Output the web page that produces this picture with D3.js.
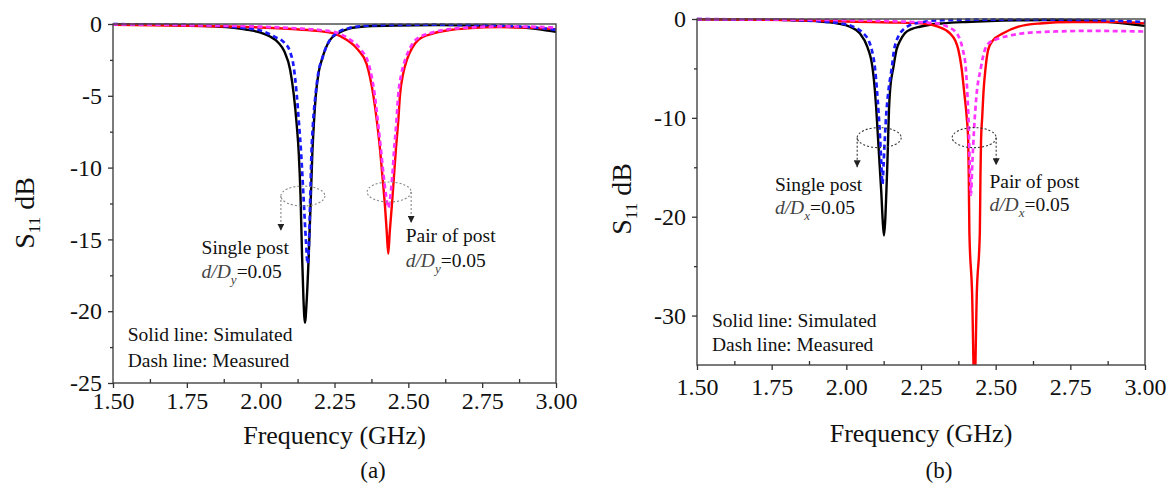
<!DOCTYPE html>
<html>
<head>
<meta charset="utf-8">
<script src="https://cdn.jsdelivr.net/npm/d3@7"></script>
<style>
  body { margin: 0; background: #fff; }
  svg { display: block; font-family: "Liberation Serif", "Times New Roman", serif; }
</style>
</head>
<body>
<svg id="chart" width="1174" height="491"></svg>
<script>
// --- DATA ---
const xTicks = [1.50, 1.75, 2.00, 2.25, 2.50, 2.75, 3.00];
const xMinor = [1.625, 1.875, 2.125, 2.375, 2.625, 2.875];
const yTicksA = [0, -5, -10, -15, -20, -25];
const yMinorA = [-2.5, -7.5, -12.5, -17.5, -22.5];
const yTicksB = [0, -10, -20, -30];
const yMinorB = [-5, -15, -25];

// panel (a): d/Dy = 0.05  [GHz, dB]
const simSingleA = [[1.50,-0.02],[1.60,-0.04],[1.70,-0.07],[1.80,-0.13],[1.90,-0.25],[1.95,-0.38],[2.00,-0.6],[2.03,-0.85],[2.06,-1.3],[2.08,-1.9],[2.10,-3.2],[2.112,-4.9],[2.122,-7],[2.129,-9],[2.135,-12],[2.140,-16],[2.145,-19.2],[2.150,-20.8],[2.156,-19.2],[2.163,-16],[2.170,-12],[2.175,-9],[2.180,-7],[2.187,-4.9],[2.197,-3.3],[2.207,-2.5],[2.22,-1.7],[2.235,-1.1],[2.262,-0.65],[2.30,-0.32],[2.36,-0.16],[2.45,-0.1],[2.60,-0.08],[2.75,-0.12],[2.85,-0.2],[2.95,-0.38],[3.00,-0.54]];
const measSingleA = [[1.50,-0.01],[1.70,-0.05],[1.85,-0.12],[1.95,-0.3],[2.00,-0.45],[2.048,-0.9],[2.08,-1.3],[2.099,-1.9],[2.112,-3],[2.122,-4.9],[2.130,-7],[2.137,-9],[2.145,-12],[2.153,-15],[2.159,-16.7],[2.164,-15],[2.168,-12],[2.172,-9],[2.177,-7],[2.186,-4.9],[2.196,-3.3],[2.207,-2.5],[2.22,-1.7],[2.235,-1.1],[2.26,-0.6],[2.30,-0.28],[2.36,-0.12],[2.45,-0.06],[2.60,-0.05],[2.75,-0.08],[2.90,-0.2],[3.00,-0.4]];
const simPairA = [[1.50,-0.05],[1.70,-0.1],[1.95,-0.2],[2.12,-0.37],[2.20,-0.5],[2.252,-0.68],[2.291,-1.1],[2.33,-1.8],[2.359,-2.8],[2.381,-4.9],[2.395,-7],[2.404,-8.7],[2.414,-11],[2.421,-12.7],[2.427,-14.5],[2.432,-16],[2.437,-14.5],[2.444,-12.7],[2.450,-11],[2.458,-8.7],[2.465,-7],[2.472,-4.9],[2.482,-3.5],[2.495,-2.5],[2.512,-1.7],[2.534,-1.1],[2.585,-0.65],[2.64,-0.42],[2.70,-0.3],[2.81,-0.22],[2.90,-0.25],[3.00,-0.37]];
const measPairA = [[1.50,-0.02],[1.70,-0.06],[1.95,-0.15],[2.12,-0.3],[2.20,-0.42],[2.257,-0.6],[2.30,-1.05],[2.34,-1.8],[2.366,-2.8],[2.386,-4.9],[2.398,-7],[2.407,-8.7],[2.416,-10.5],[2.425,-12],[2.432,-12.8],[2.439,-12],[2.446,-10.5],[2.452,-8.7],[2.459,-7],[2.466,-4.9],[2.476,-3.5],[2.489,-2.5],[2.505,-1.7],[2.525,-1.1],[2.58,-0.6],[2.64,-0.35],[2.70,-0.25],[2.81,-0.17],[2.90,-0.18],[3.00,-0.25]];

// panel (b): d/Dx = 0.05
const simSingleB = [[1.50,-0.02],[1.70,-0.06],[1.81,-0.1],[1.90,-0.22],[1.968,-0.44],[2.012,-0.78],[2.045,-1.45],[2.07,-2.8],[2.088,-5],[2.095,-7],[2.100,-9],[2.106,-12],[2.112,-15],[2.117,-17.5],[2.122,-20.5],[2.126,-21.9],[2.130,-20.5],[2.134,-17.5],[2.137,-15],[2.140,-12],[2.143,-9],[2.147,-7],[2.157,-5],[2.168,-3.1],[2.18,-2.2],[2.196,-1.45],[2.22,-1.0],[2.246,-0.78],[2.28,-0.58],[2.324,-0.44],[2.40,-0.3],[2.48,-0.2],[2.60,-0.12],[2.70,-0.1],[2.80,-0.15],[2.90,-0.35],[3.00,-0.7]];
const measSingleB = [[1.50,-0.02],[1.70,-0.05],[1.81,-0.1],[1.92,-0.25],[1.98,-0.44],[2.023,-0.78],[2.057,-1.45],[2.075,-2.2],[2.085,-3.1],[2.096,-5],[2.102,-7],[2.108,-9.5],[2.113,-12],[2.117,-14.5],[2.121,-16.7],[2.125,-14.5],[2.129,-12],[2.134,-9.5],[2.142,-7],[2.152,-5],[2.160,-3.1],[2.168,-2.2],[2.180,-1.45],[2.195,-0.95],[2.213,-0.62],[2.257,-0.3],[2.324,-0.12],[2.45,-0.06],[2.60,-0.05],[2.75,-0.08],[2.90,-0.18],[3.00,-0.3]];
const simPairB = [[1.50,-0.02],[1.80,-0.1],[2.035,-0.28],[2.15,-0.35],[2.257,-0.45],[2.307,-0.78],[2.347,-1.45],[2.365,-2.2],[2.375,-3.1],[2.386,-5],[2.395,-7.5],[2.403,-9.9],[2.408,-12.3],[2.410,-16],[2.412,-21.6],[2.421,-27.6],[2.429,-38],[2.437,-27.6],[2.447,-21.6],[2.449,-16],[2.451,-12.3],[2.455,-9.9],[2.459,-7.5],[2.466,-5],[2.475,-3.1],[2.49,-2.2],[2.525,-1.45],[2.576,-0.78],[2.648,-0.45],[2.759,-0.3],[2.90,-0.3],[3.00,-0.44]];
const measPairB = [[1.50,-0.01],[1.80,-0.06],[2.00,-0.12],[2.19,-0.26],[2.26,-0.35],[2.302,-0.45],[2.34,-0.8],[2.37,-1.45],[2.382,-2.2],[2.39,-3.1],[2.400,-5],[2.406,-8],[2.410,-11],[2.413,-14.5],[2.417,-17.8],[2.422,-14.5],[2.428,-11],[2.435,-8],[2.450,-5],[2.464,-3.1],[2.475,-2.5],[2.498,-2.1],[2.53,-1.8],[2.559,-1.6],[2.59,-1.45],[2.65,-1.32],[2.704,-1.26],[2.816,-1.2],[2.90,-1.22],[3.00,-1.27]];

const svg = d3.select("#chart");
svg.append("rect").attr("width", 1174).attr("height", 491).attr("fill", "#fff");

svg.append("defs").append("marker")
  .attr("id", "tip").attr("viewBox", "0 0 10 10")
  .attr("refX", 10).attr("refY", 5)
  .attr("markerWidth", 7).attr("markerHeight", 7)
  .attr("markerUnits", "userSpaceOnUse").attr("orient", "auto")
  .append("path").attr("d", "M0,0L10,5L0,10Z").attr("fill", "#222");

// line styles per series
const styles = {
  sim1: { color: "#000", dash: null },
  sim2: { color: "#ff0000", dash: null },
  meas1: { color: "#1a1aff", dash: "5,3.5" },
  meas2: { color: "#ff33ff", dash: "5,3.5" }
};

const panels = [
  {
    id: "a", x0: 113, x1: 556, y0: 24, y1: 383, yMin: -25,
    yTicks: yTicksA, yMinor: yMinorA, xLabelPad: 4,
    series: [[simSingleA, "sim1"], [simPairA, "sim2"], [measSingleA, "meas1"], [measPairA, "meas2"]],
    ringColor: "#888",
    rings: [{ cx: 2.143, cy: -11.98, ax: "left", tipY: -14.4 }, { cx: 2.435, cy: -11.7, ax: "right", tipY: -13.85 }],
    notes: [
      { x: 1.80, y: -16.0, title: "Single post", sub: "y", dy: 24 },
      { x: 2.491, y: -15.15, title: "Pair of post", sub: "y", dy: 25 }
    ],
    legendX: 1.55, legendY: [-22.1, -23.9],
    yTitle: [34, 213], caption: ["(a)", 373, 478], xTitleY: 444
  },
  {
    id: "b", x0: 697, x1: 1145, y0: 19, y1: 365, yMin: -35,
    yTicks: yTicksB, yMinor: yMinorB, xLabelPad: 8,
    series: [[simSingleB, "sim1"], [simPairB, "sim2"], [measSingleB, "meas1"], [measPairB, "meas2"]],
    ringColor: "#333",
    rings: [{ cx: 2.110, cy: -12.0, ax: "left", tipY: -15.0 }, { cx: 2.428, cy: -12.0, ax: "right", tipY: -14.8 }],
    notes: [
      { x: 1.761, y: -17.37, title: "Single post", sub: "x", dy: 23 },
      { x: 2.479, y: -17.1, title: "Pair of post", sub: "x", dy: 23 }
    ],
    legendX: 1.55, legendY: [-31.2, -33.6],
    yTitle: [631, 199], caption: ["(b)", 939, 478], xTitleY: 442
  }
];

panels.forEach(p => {
  const x = d3.scaleLinear().domain([1.5, 3.0]).range([p.x0, p.x1]);
  const y = d3.scaleLinear().domain([p.yMin, 0]).range([p.y1, p.y0]);
  const g = svg.append("g");

  g.append("clipPath").attr("id", "clip-" + p.id)
    .append("rect").attr("x", p.x0).attr("y", p.y0 - 3)
    .attr("width", p.x1 - p.x0).attr("height", p.y1 - p.y0 + 3);

  // curves
  const line = d3.line().x(d => x(d[0])).y(d => y(d[1])).curve(d3.curveMonotoneX);
  const curves = g.append("g").attr("clip-path", `url(#clip-${p.id})`);
  p.series.forEach(([data, key]) => {
    const s = styles[key];
    curves.append("path")
      .attr("d", line(data))
      .attr("fill", "none")
      .attr("stroke", s.color)
      .attr("stroke-width", s.dash ? 2.7 : 2.4)
      .attr("stroke-dasharray", s.dash)
      .attr("stroke-linejoin", "round");
  });

  // frame
  g.append("rect")
    .attr("x", p.x0).attr("y", p.y0)
    .attr("width", p.x1 - p.x0).attr("height", p.y1 - p.y0)
    .attr("fill", "none").attr("stroke", "#444").attr("stroke-width", 1.4);

  // axes
  g.append("g").attr("transform", `translate(0,${p.y1})`)
    .call(d3.axisBottom(x).tickValues(xTicks).tickFormat(d3.format(".2f"))
      .tickSize(5).tickPadding(p.xLabelPad).tickSizeOuter(0));
  g.append("g").attr("transform", `translate(0,${p.y1})`)
    .call(d3.axisBottom(x).tickValues(xMinor).tickFormat("").tickSize(-4).tickSizeOuter(0));
  g.append("g").attr("transform", `translate(${p.x0},0)`)
    .call(d3.axisLeft(y).tickValues(p.yTicks).tickFormat(d => String(d))
      .tickSize(5).tickPadding(6).tickSizeOuter(0));
  g.append("g").attr("transform", `translate(${p.x0},0)`)
    .call(d3.axisLeft(y).tickValues(p.yMinor).tickFormat("").tickSize(3).tickSizeOuter(0));

  g.selectAll(".domain").remove();
  g.selectAll(".tick line").attr("stroke", "#333").attr("stroke-width", 1.3);
  g.selectAll(".tick text")
    .attr("font-family", "Liberation Serif, serif")
    .attr("font-size", 24).attr("fill", "#111");

  // dotted rings and arrows
  p.rings.forEach(r => {
    const cx = x(r.cx), cy = y(r.cy);
    g.append("ellipse")
      .attr("cx", cx).attr("cy", cy).attr("rx", 22).attr("ry", 10)
      .attr("fill", "none").attr("stroke", p.ringColor)
      .attr("stroke-width", 1.1).attr("stroke-dasharray", "2,2");
    const ax = r.ax === "left" ? cx - 22 : cx + 22;
    g.append("line")
      .attr("x1", ax).attr("y1", cy).attr("x2", ax).attr("y2", y(r.tipY))
      .attr("stroke", p.ringColor).attr("stroke-width", 1.1)
      .attr("stroke-dasharray", "2,2").attr("marker-end", "url(#tip)");
  });

  // notes
  p.notes.forEach(n => {
    g.append("text")
      .attr("x", x(n.x)).attr("y", y(n.y))
      .attr("font-size", 19.5).attr("fill", "#111")
      .text(n.title);
    const t = g.append("text")
      .attr("x", x(n.x)).attr("y", y(n.y) + n.dy)
      .attr("font-size", 19.5).attr("fill", "#111");
    t.append("tspan").attr("font-style", "italic").attr("fill", "#444").text("d/D");
    t.append("tspan").attr("font-style", "italic").attr("fill", "#444")
      .attr("font-size", 13).attr("dy", 6).text(n.sub);
    t.append("tspan").attr("dy", -6).text("=0.05");
  });

  // legend text
  ["Solid line: Simulated", "Dash line: Measured"].forEach((s, i) => {
    g.append("text")
      .attr("x", x(p.legendX)).attr("y", y(p.legendY[i]))
      .attr("font-size", 19.5).attr("fill", "#111")
      .text(s);
  });

  // axis titles
  g.append("text")
    .attr("x", (p.x0 + p.x1) / 2).attr("y", p.xTitleY)
    .attr("text-anchor", "middle").attr("font-size", 26).attr("fill", "#111")
    .text("Frequency (GHz)");

  const yt = g.append("text")
    .attr("transform", `translate(${p.yTitle[0]},${p.yTitle[1]}) rotate(-90)`)
    .attr("text-anchor", "middle").attr("font-size", 28).attr("fill", "#111");
  yt.append("tspan").text("S");
  yt.append("tspan").attr("font-size", 17).attr("dy", 6).text("11");
  yt.append("tspan").attr("dy", -6).text(" dB");

  g.append("text")
    .attr("x", p.caption[1]).attr("y", p.caption[2])
    .attr("text-anchor", "middle").attr("font-size", 23).attr("fill", "#111")
    .text(p.caption[0]);
});
</script>
</body>
</html>
